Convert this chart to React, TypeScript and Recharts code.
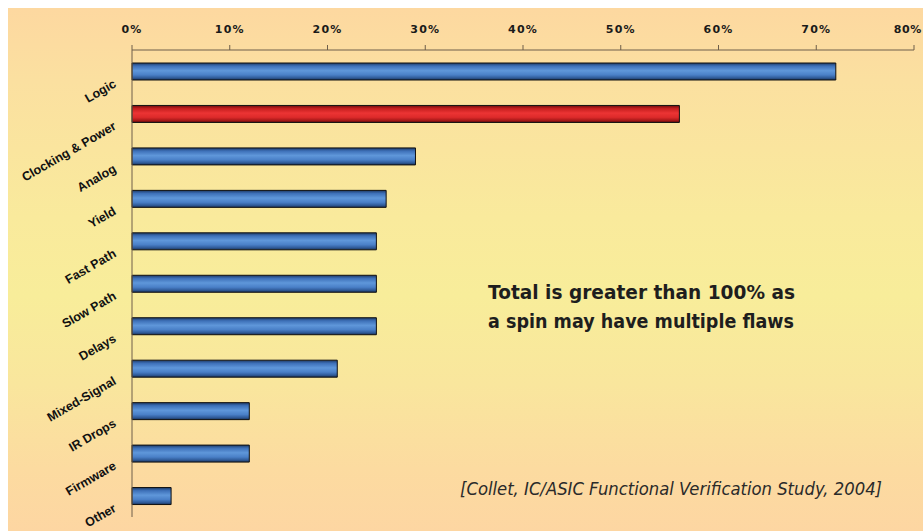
import React from "react";
import { BarChart, Bar, XAxis, YAxis, Cell } from "recharts";

const categories = [
  "Logic",
  "Clocking & Power",
  "Analog",
  "Yield",
  "Fast Path",
  "Slow Path",
  "Delays",
  "Mixed-Signal",
  "IR Drops",
  "Firmware",
  "Other",
];
const percentValues = [72, 56, 29, 26, 25, 25, 25, 21, 12, 12, 4];
const highlighted = ["Clocking & Power"];
const xTicks = [0, 10, 20, 30, 40, 50, 60, 70, 80];
const noteLines = ["Total is greater than 100% as", "a spin may have multiple flaws"];
const citation = "[Collet, IC/ASIC Functional Verification Study, 2004]";

const data = categories.map((c, i) => ({ name: c, value: percentValues[i] }));

const PAGE_W = 923;
const PAGE_H = 531;
const W = 915;
const H = 523;

const CategoryTick = (props: any) => {
  const { x, y, payload } = props;
  return (
    <g transform={`translate(${x},${y + 15}) rotate(-30)`}>
      <text
        x={0}
        y={0}
        textAnchor="end"
        fontFamily="'Liberation Sans', Arial, sans-serif"
        fontWeight="bold"
        fontSize={12.5}
        fill="#111"
      >
        {payload.value}
      </text>
    </g>
  );
};

const PercentTick = (props: any) => {
  const { x, y, payload } = props;
  const label = `${payload.value}%`;
  const halfWidth = 14;
  const overflow = x + halfWidth > W - 1;
  return (
    <text
      x={overflow ? W - 1 : x}
      y={y}
      textAnchor={overflow ? "end" : "middle"}
      fontFamily="'DejaVu Sans', sans-serif"
      fontWeight="bold"
      fontSize={11}
      letterSpacing={overflow ? 0.6 : 1.2}
      fill="#1a1a1a"
    >
      {label}
    </text>
  );
};

export default function App() {
  return (
    <div
      style={{
        position: "relative",
        width: PAGE_W,
        height: PAGE_H,
        overflow: "hidden",
        background: "#ffffff",
      }}
    >
      <style>{`html,body{margin:0;padding:0;overflow:hidden;}`}</style>
      <div
        style={{
          position: "absolute",
          left: 8,
          top: 8,
          width: W,
          height: H,
          background:
            "linear-gradient(to bottom, #fdd8a0 0%, #fbe0a0 14%, #f9ea9c 40%, #f8ed9a 55%, #f9e69d 72%, #fcdba0 88%, #fdd6a2 100%)",
        }}
      >
        <div style={{ position: "absolute", left: 0, top: 0 }}>
          <BarChart
            width={W}
            height={H}
            data={data}
            layout="vertical"
            margin={{ top: 12, right: 9, bottom: 14, left: 0 }}
            barSize={17}
          >
            <defs>
              <linearGradient id="blueBar" x1="0" y1="0" x2="0" y2="1">
                <stop offset="0%" stopColor="#1d3a66" />
                <stop offset="18%" stopColor="#3d70b8" />
                <stop offset="45%" stopColor="#5f97da" />
                <stop offset="70%" stopColor="#4a80c8" />
                <stop offset="88%" stopColor="#2f5a98" />
                <stop offset="100%" stopColor="#1a3358" />
              </linearGradient>
              <linearGradient id="redBar" x1="0" y1="0" x2="0" y2="1">
                <stop offset="0%" stopColor="#6e0d0d" />
                <stop offset="18%" stopColor="#c41e1e" />
                <stop offset="45%" stopColor="#ec3434" />
                <stop offset="70%" stopColor="#dc2a2a" />
                <stop offset="88%" stopColor="#a81818" />
                <stop offset="100%" stopColor="#5e0b0b" />
              </linearGradient>
            </defs>
            <XAxis
              type="number"
              orientation="top"
              domain={[0, 80]}
              ticks={xTicks}
              height={30}
              tickSize={5}
              tickMargin={12}
              stroke="#6e5e4a"
              tick={<PercentTick />}
              interval={0}
            />
            <YAxis
              type="category"
              dataKey="name"
              width={124}
              tickSize={0}
              tickMargin={15}
              tickLine={false}
              stroke="#6e5e4a"
              tick={<CategoryTick />}
              interval={0}
            />
            <Bar dataKey="value" isAnimationActive={false} stroke="#111" strokeWidth={1}>
              {data.map((d) => (
                <Cell
                  key={d.name}
                  fill={highlighted.includes(d.name) ? "url(#redBar)" : "url(#blueBar)"}
                />
              ))}
            </Bar>
          </BarChart>
        </div>
        <svg
          width={W}
          height={H}
          style={{ position: "absolute", left: 0, top: 0, pointerEvents: "none" }}
        >
          {noteLines.map((line, i) => (
            <text
              key={line}
              x={480}
              y={291 + i * 29}
              fontFamily="'DejaVu Sans', Verdana, sans-serif"
              fontWeight="bold"
              fontSize={19}
              fill="#1e1e1e"
              textLength={i === 0 ? 307 : 306}
              lengthAdjust="spacingAndGlyphs"
            >
              {line}
            </text>
          ))}
          <text
            x={452}
            y={487}
            fontFamily="'DejaVu Sans', Verdana, sans-serif"
            fontStyle="italic"
            fontSize={17}
            fill="#2a2a2a"
            textLength={422}
            lengthAdjust="spacingAndGlyphs"
          >
            {citation}
          </text>
        </svg>
      </div>
    </div>
  );
}
